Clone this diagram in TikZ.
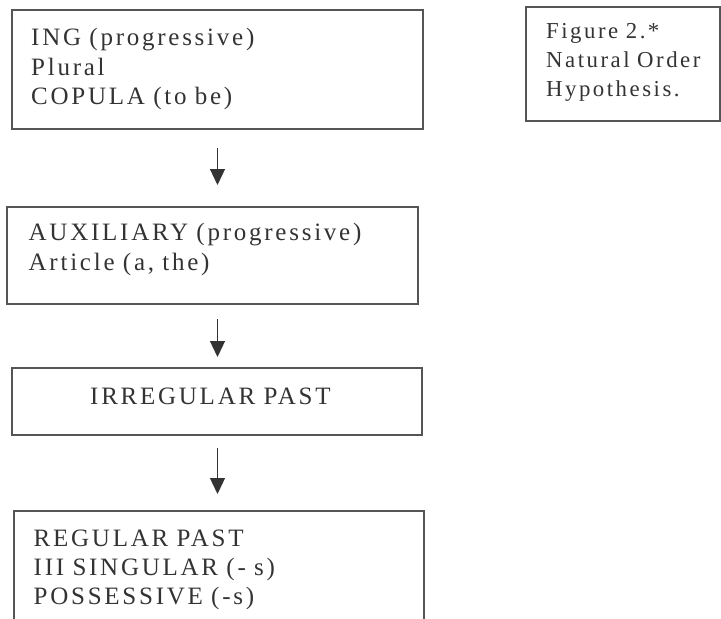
\documentclass[tikz,border=0pt]{standalone}
\usepackage{fontspec}
\setmainfont{Liberation Serif}
\newfontfamily\spacedfont[LetterSpace=11]{Liberation Serif}
\newcommand{\stagefont}[2]{\spacedfont\fontsize{#1}{#2}\selectfont\spaceskip=0.4em\relax}
\usetikzlibrary{positioning, arrows.meta}
\definecolor{boxgray}{HTML}{555555}
\definecolor{inkgray}{HTML}{333333}
\tikzset{ stagebox/.style={draw=boxgray, line width=1.4pt,
            anchor=north west, inner sep=0pt, outer sep=0pt},
        stagetext/.style={anchor=base west, inner sep=0pt,
            text width=390pt, align=left, text=inkgray,
            font=\stagefont{25}{#1}},
        stagetext/.default=29.5,
        downarrow/.style args={#1 #2}{-{Triangle[length=16pt,width=15pt]},
            line width=1.3pt, draw=inkgray, shorten <=#1, shorten >=#2}}

\begin{document}
\begin{tikzpicture}[x=1pt,y=-1pt]
\path[use as bounding box] (0,0) rectangle (721,619);
\clip (0,0) rectangle (721,619);

%boxes of the order
\node[stagebox, minimum width=411pt, minimum height=119pt] (ing) at (12,10) {};
\node[stagebox, minimum width=411pt, minimum height=97pt] (aux) at (7,207) {};
\node[stagebox, minimum width=410pt, minimum height=67pt] (irr) at (12,368) {};
\node[stagebox, minimum width=410pt, minimum height=140pt] (reg) at (14,511) {};
\node[stagebox, minimum width=194pt, minimum height=114pt] (fig) at (526,7) {};

%texts
\node[stagetext] (ingtext) at (31,45.5)
  {ING (progressive)\\Plural\\COPULA (to be)};
\node[stagetext=30] (auxtext) at (28.5,240)
  {AUXILIARY (progressive)\\Article (a, the)};
\node[stagetext] (irrtext) at (90,404) {IRREGULAR PAST};
\node[stagetext=29] (regtext) at (33.5,546)
  {REGULAR PAST\\III SINGULAR (- s)\\POSSESSIVE (-s)};
\node[stagetext, text width=170pt, font=\stagefont{22.8}{29}] (figtext) at (546,38)
  {Figure 2.*\\Natural Order\\Hypothesis.};

%arrows, all on the axis of the first box
\foreach \a/\b/\s/\e in {ing/aux/19pt/22pt, aux/irr/15pt/11pt, irr/reg/13pt/17pt}
  \draw[downarrow={\s} {\e}] (ing.south |- \a.south) -- (ing.south |- \b.north);

\end{tikzpicture}
\end{document}
